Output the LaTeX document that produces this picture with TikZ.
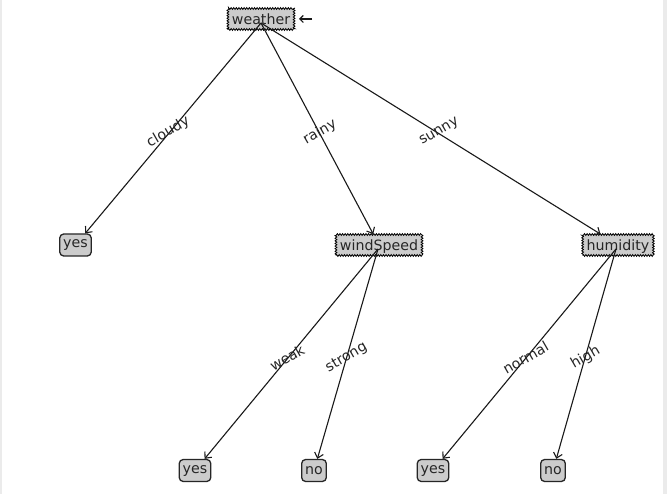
\documentclass[tikz,border=0pt]{standalone}
\usepackage{fontspec}
\setmainfont{DejaVu Sans}
\usetikzlibrary{calc,arrows.meta,decorations.pathmorphing}
\begin{document}
\begin{tikzpicture}[x=1pt,y=-1pt,
  every node/.style={font=\fontsize{14.2}{16}\selectfont, text=black!85},
  decision/.style={draw=black, fill=black!20, line width=0.8pt, inner xsep=4pt, inner ysep=0pt,
     minimum height=21pt, text depth=0pt,
     decorate, decoration={zigzag, segment length=2.6pt, amplitude=0.9pt}},
  leaf/.style={draw=black!85, fill=black!20, line width=1.3pt, rounded corners=4pt,
     inner xsep=3.5pt, inner ysep=0pt, minimum height=22pt},
  edge/.style={draw=black!90, line width=1.1pt, -{Straight Barb[length=5pt,width=9pt]}},
  elabel/.style={rotate=30, inner sep=0pt}
]
\useasboundingbox (0,0) rectangle (667,494);
\fill[white] (0,0) rectangle (667,494);
\fill[black!8] (0,0) rectangle (1.5,494);
\fill[black!8] (663,0) rectangle (667,494);

\node[decision] (weather) at (261,19) {weather};
\node[leaf] (yesA) at (75.5,245) {yes};
\node[decision] (wind) at (379,245) {windSpeed};
\node[decision] (hum) at (618,245) {humidity};
\node[leaf] (yesB) at (195,470.5) {yes};
\node[leaf] (noA) at (314,470.5) {no};
\node[leaf] (yesC) at (433,470.5) {yes};
\node[leaf] (noB) at (553,470.5) {no};

\coordinate (pw) at (261,23);
\coordinate (pws) at (378,249);
\coordinate (ph) at (616,249);
\coordinate (rootstart) at (312,19);
\coordinate (roottip) at (299,19);

\draw[edge] (pw) -- (yesA);
\draw[edge] (pw) -- (wind);
\draw[edge] (pw) -- (hum);
\draw[edge] (pws) -- (yesB);
\draw[edge] (pws) -- (noA);
\draw[edge] (ph) -- (yesC);
\draw[edge] (ph) -- (noB);
\draw[edge, -{Straight Barb[length=3.5pt,width=7pt]}] (rootstart) -- (roottip);

\node[elabel] (lcloudy) at ($(weather)!0.5!(yesA)$) {cloudy};
\node[elabel] (lrainy) at ($(weather)!0.5!(wind)$) {rainy};
\node[elabel] (lsunny) at ($(weather)!0.5!(hum)$) {sunny};
\node[elabel] (lweak) at ($(wind)!0.5!(yesB)$) {weak};
\node[elabel] (lstrong) at ($(wind)!0.5!(noA)$) {strong};
\node[elabel] (lnormal) at ($(hum)!0.5!(yesC)$) {normal};
\node[elabel] (lhigh) at ($(hum)!0.5!(noB)$) {high};
\end{tikzpicture}
\end{document}
